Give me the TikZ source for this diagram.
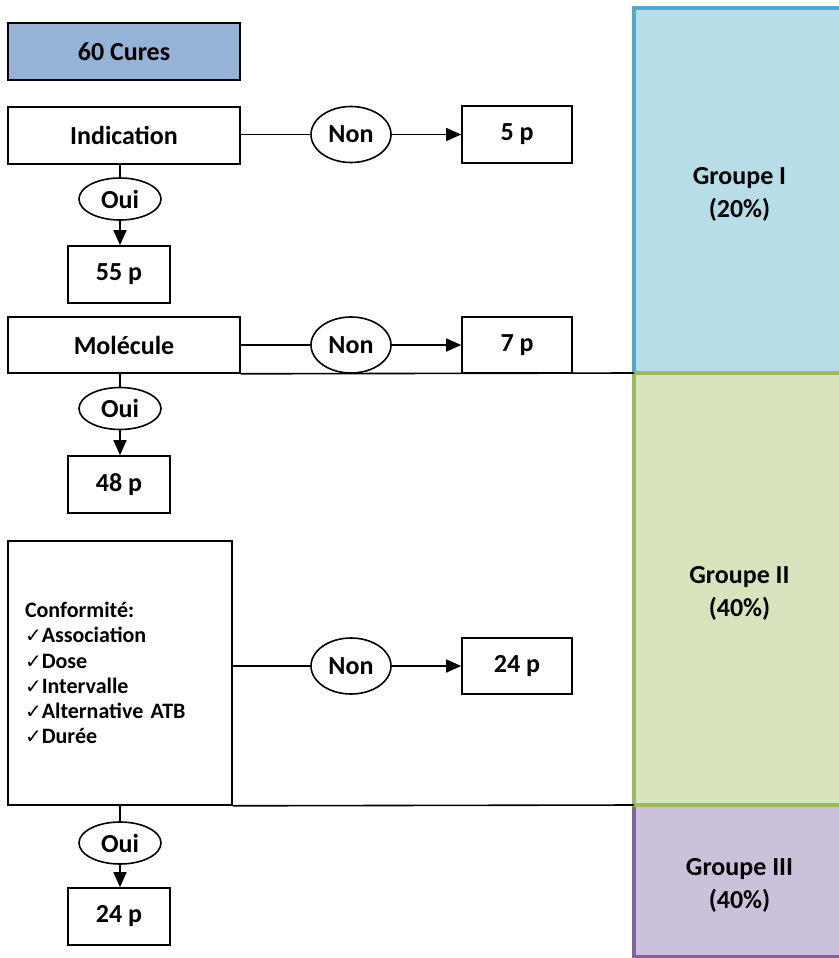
\documentclass[tikz,border=0pt]{standalone}
\usepackage{fontspec}
\setmainfont{Carlito}
\newfontfamily\symfont{DejaVu Sans}
\usetikzlibrary{shapes.geometric,arrows.meta}
\definecolor{curesfill}{HTML}{95B3D7}
\definecolor{gIfill}{HTML}{B7DDE8}
\definecolor{gIline}{HTML}{4BACC6}
\definecolor{gIIfill}{HTML}{D7E4BD}
\definecolor{gIIline}{HTML}{9BBB59}
\definecolor{gIIIfill}{HTML}{CCC1DA}
\definecolor{gIIIline}{HTML}{8064A2}
\newcommand{\ck}{{\symfont\fontsize{20}{20}\selectfont ✓}}
\tikzset{
  every node/.style={font=\fontsize{26}{33}\selectfont\bfseries},
  box/.style={draw, line width=1.6pt, rectangle, inner sep=0pt},
  wide/.style={box, minimum width=232pt, minimum height=57pt},
  small/.style={box, minimum width=110pt, minimum height=57pt},
  res/.style={box, minimum width=102pt, minimum height=57pt},
  yes/.style={draw, line width=1.6pt, ellipse, minimum width=82pt, minimum height=42pt, inner sep=0pt},
  no/.style={draw, line width=1.6pt, ellipse, minimum width=80pt, minimum height=56pt, inner sep=0pt},
  grp/.style={rectangle, line width=4pt, minimum width=211pt, inner sep=0pt},
  gtext/.style={align=center, inner sep=0pt, yshift=-4pt},
  conn/.style={line width=1.6pt},
  arr/.style={line width=1.6pt, -{Triangle[length=15pt,width=13pt]}}
}
\begin{document}
\begin{tikzpicture}[x=1pt,y=-1pt]
\useasboundingbox (0,0) rectangle (838,958);
% groups
\node[grp, draw=gIline, fill=gIfill, minimum height=365pt] (g1) at (739.5,190.5) {};
\node[grp, draw=gIIIline, fill=gIIIfill, minimum height=152pt] (g3) at (739.5,881) {};
\node[grp, draw=gIIline, fill=gIIfill, minimum height=432pt] (g2) at (739.5,589) {};
\node[gtext] (t1) at (g1.center) {Groupe I\\(20\%)};
\node[gtext] (t2) at (g2.center) {Groupe II\\(40\%)};
\node[gtext] (t3) at (g3.center) {Groupe III\\(40\%)};
\coordinate (b1) at (634,373);
\coordinate (b2) at (634,805);
% boxes
\node[wide, fill=curesfill] (cures) at (124,51.5) {60 Cures};
\node[wide] (ind) at (124,135.5) {Indication};
\node[no] (non1) at (351,134.5) {Non};
\node[small] (p5) at (517,134.5) {5 p};
\node[yes] (oui1) at (120,199) {Oui};
\node[res] (p55) at (119,274.5) {55 p};
\node[wide, minimum height=56pt] (mol) at (124,345) {Molécule};
\node[no] (non2) at (351,345) {Non};
\node[small, minimum height=56pt] (p7) at (517,345) {7 p};
\node[yes] (oui2) at (120,408.5) {Oui};
\node[res] (p48) at (119,484.5) {48 p};
\node[box, minimum height=264pt, text width=190pt, inner xsep=17pt, align=left,
      font=\fontsize{22}{25.2}\selectfont\bfseries] (conf) at (120,673)
  {Conformité:\\\ck Association\\\ck Dose\\\ck Intervalle\\\ck Alternative ATB\\\ck Durée};
\node[no] (non3) at (351,666) {Non};
\node[small, minimum height=56pt] (p24a) at (517,666) {24 p};
\node[yes] (oui3) at (120,843) {Oui};
\node[res] (p24b) at (119,916.5) {24 p};
% connectors
\draw[conn] (ind.east |- non1) -- (non1);
\draw[arr] (non1) -- (p5);
\draw[conn] (oui1.north |- ind.south) -- (oui1);
\draw[arr] (oui1) -- (oui1 |- p55.north);
\draw[conn] (mol.east |- non2) -- (non2);
\draw[arr] (non2) -- (p7);
\draw[conn] (mol.south east) -- (b1);
\draw[conn] (oui2.north |- mol.south) -- (oui2);
\draw[arr] (oui2) -- (oui2 |- p48.north);
\draw[conn] (conf.east |- non3) -- (non3);
\draw[arr] (non3) -- (p24a);
\draw[conn] (conf.south east) -- (b2);
\draw[conn] (oui3.north |- conf.south) -- (oui3);
\draw[arr] (oui3) -- (oui3 |- p24b.north);
\end{tikzpicture}
\end{document}
